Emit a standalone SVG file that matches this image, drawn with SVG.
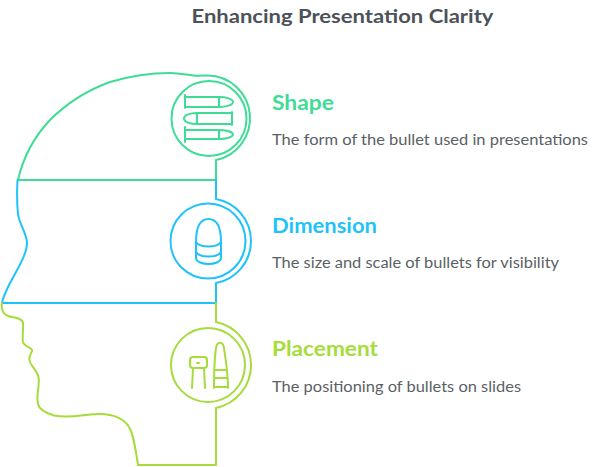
<svg xmlns="http://www.w3.org/2000/svg" width="600" height="467" viewBox="0 0 600 467">
<style>
.l{fill:none;stroke-width:2;stroke-linecap:round;stroke-linejoin:round}
.g{stroke:#3fdc96}.b{stroke:#1fc3fa}.y{stroke:#a6dc3c}
.t{font-family:"Lato","Open Sans",sans-serif;font-weight:700;font-size:20px}
.d{font-family:"Lato","Open Sans",sans-serif;font-size:15.5px;fill:#5a5f66}
</style>
<rect width="600" height="467" fill="#fff"/>
<text x="342.500" y="23" text-anchor="middle" textLength="302" lengthAdjust="spacingAndGlyphs" style="font-family:'Lato','Open Sans',sans-serif;font-weight:700;font-size:19px" fill="#4c5259">Enhancing Presentation Clarity</text>
<g id="connectors">
<path class="l g" d="M18 180C23 158 33 138 50 120C67 103 85 91 110 82C130 76 150 73 170 73C180 73 187 75 193 75.500C198 76 203 75.500 208 75.500A42.700 42.700 0 0 1 216 160V180H18"/>
<path class="l b" d="M17.500 180C17 190 17 205 18 214C18.500 222 26 232 27 242C27.500 252 20 265 10 283C6 291 3 297 2 303H216V283A42.700 42.700 0 0 0 216 199V180"/>
<path class="l y" d="M2 303C1 310 3 314 8 316C13 318 22 317 23 323C23.500 330 22 337 23 342C25 348 33 347 32 351C31 354 28 357 30 362C32 367 37 371 38.500 377C40 386 36 393 38 404C39 409 46 413 54 415.500C70 419 85 414 100 414C115 414 125 420 129 427C133 433 135 445 138 465H216V408A43.900 43.900 0 0 0 216 322V303"/>
</g>
<g id="node-shape">
<circle class="l g" cx="209" cy="118.500" r="37.500"/>
<path class="l g" d="M185 95V108M185 97H219C226 97 233 99 233 102C233 105 226 107 219 107H185M219 97V107"/>
<path class="l g" d="M232 112V125M232 113H197C190 113 184 115 184 118.500C184 122 190 124 197 124H232M197 113V124"/>
<path class="l g" d="M185 127V142M185 130H219C226 130 233 132 233 134.500C233 137 226 139 219 139H185M219 130V139"/>
<text class="t" x="272" y="110" fill="#3fdc96" textLength="62" lengthAdjust="spacingAndGlyphs">Shape</text>
<text class="d" x="272" y="145" textLength="316" lengthAdjust="spacingAndGlyphs">The form of the bullet used in presentations</text>
</g>
<g id="node-dimension">
<circle class="l b" cx="208" cy="241" r="37.500"/>
<path class="l b" d="M196 242C196 226 200 219 208.500 219C217 219 221 226 221 242V258C221 262 214 264 208.500 264C203 264 196 262 196 258V242C200 248 217 248 221 242M196 252C200 258 217 258 221 252"/>
<text class="t" x="272" y="233" fill="#1fc3fa" textLength="105" lengthAdjust="spacingAndGlyphs">Dimension</text>
<text class="d" x="272" y="268" textLength="287" lengthAdjust="spacingAndGlyphs">The size and scale of bullets for visibility</text>
</g>
<g id="node-placement">
<circle class="l y" cx="208" cy="365" r="37"/>
<path class="l y" d="M193 357H204Q207 357 207 360V365Q207 368 204 368H193Q190 368 190 365V360Q190 357 193 357ZM193 368L192 388M204 368L205 388M197 363H199"/>
<path class="l y" d="M214 388C214 372 215 355 216 348C217 341 223 341 224 348C225 355 228 372 228 388M215 370H226.500M214.500 378H227M214 387H228"/>
<text class="t" x="272" y="356" fill="#a6dc3c" textLength="106" lengthAdjust="spacingAndGlyphs">Placement</text>
<text class="d" x="272" y="392" textLength="249" lengthAdjust="spacingAndGlyphs">The positioning of bullets on slides</text>
</g>
</svg>
